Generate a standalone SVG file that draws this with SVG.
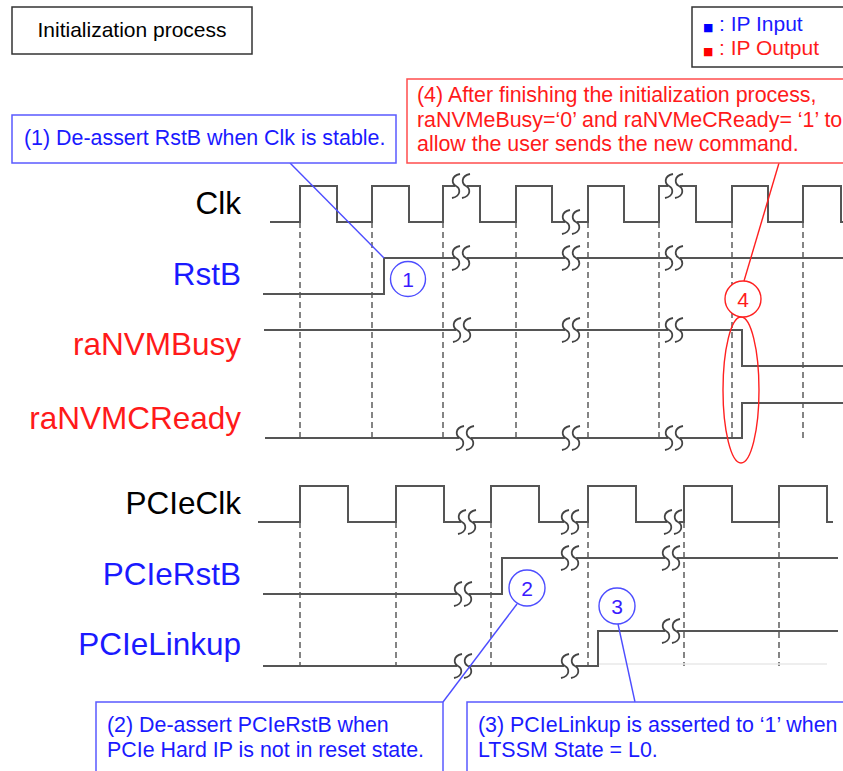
<svg xmlns="http://www.w3.org/2000/svg" xmlns:xlink="http://www.w3.org/1999/xlink" width="843" height="771" viewBox="0 0 843 771">
<style>
  text { font-family: "Liberation Sans", Arial, sans-serif; }
  .lbl { font-size: 31.5px; text-anchor: end; }
  .blk { fill: #000; }
  .blu { fill: #1a1aff; }
  .red { fill: #ff1a1a; }
  .ct { font-size: 21.4px; }
  .wave { fill: none; stroke: #555; stroke-width: 2; }
  .dash { fill: none; stroke: #666; stroke-width: 1.6; stroke-dasharray: 6 4; }
  .bbox { fill: #fff; stroke: #5a5aff; stroke-width: 1.5; }
  .rbox { fill: #fff; stroke: #ff4d4d; stroke-width: 1.5; }
  .bline { stroke: #4d4dff; stroke-width: 1.4; fill: none; }
  .rline { stroke: #ff2020; stroke-width: 1.4; fill: none; }
  .brk path { fill: none; stroke: #444; stroke-width: 1.8; }
</style>
<defs>
  <g id="brk" class="brk">
    <rect x="-1" y="-4" width="12" height="8" fill="#fff"/>
    <path d="M4,-12 C-6,-10 -4,-2 0,0 C4,2 6,10 -4,12"/>
    <path d="M14,-12 C4,-10 6,-2 10,0 C14,2 16,10 6,12"/>
  </g>
</defs>
<rect width="843" height="771" fill="#fff"/>

<g id="title">
  <rect x="12" y="7" width="240" height="47" fill="#fff" stroke="#333" stroke-width="1.5"/>
  <text x="132" y="37" font-size="21" text-anchor="middle" fill="#000">Initialization process</text>
</g>

<g id="legend">
  <rect x="692" y="7" width="155" height="60" fill="#fff" stroke="#333" stroke-width="1.5"/>
  <text x="703" y="31" font-size="11" fill="#0000ff" style="font-family:'DejaVu Sans',sans-serif">■</text>
  <text x="719" y="31" font-size="21" class="blu">: IP Input</text>
  <text x="703" y="55" font-size="11" fill="#ff0000" style="font-family:'DejaVu Sans',sans-serif">■</text>
  <text x="719" y="55" font-size="21" class="red">: IP Output</text>
</g>

<g id="signal-labels">
  <text x="241" y="214" class="lbl blk">Clk</text>
  <text x="241" y="285" class="lbl blu">RstB</text>
  <text x="241" y="355" class="lbl red">raNVMBusy</text>
  <text x="241" y="429" class="lbl red">raNVMCReady</text>
  <text x="241" y="514" class="lbl blk">PCIeClk</text>
  <text x="241" y="585" class="lbl blu">PCIeRstB</text>
  <text x="241" y="655" class="lbl blu">PCIeLinkup</text>
</g>

<g id="gridlines">
  <path class="dash" d="M300,222V438 M372,222V438 M443,222V438 M516,222V438 M588,222V438 M659,222V438 M732,222V438 M803,222V438"/>
  <path class="dash" d="M300,522V666 M396,522V666 M491,522V666 M588,522V666 M684,522V666 M779,522V666"/>
  <path d="M598,664H827" stroke="#e8e8e8" stroke-width="1.5" fill="none"/>
</g>

<g id="wave-clk">
  <path class="wave" d="M270,222H300V186H337V222H372V186H409V222H443V186H480V222H516V186H552V222H588V186H624V222H659V186H696V222H732V186H768V222H803V186H841V222H843"/>
  <use xlink:href="#brk" x="456" y="186"/>
  <use xlink:href="#brk" x="566" y="222"/>
  <use xlink:href="#brk" x="669" y="186"/>
</g>
<g id="wave-rstb">
  <path class="wave" d="M263,294H384V258H843"/>
  <use xlink:href="#brk" x="456" y="258"/>
  <use xlink:href="#brk" x="566" y="258"/>
  <use xlink:href="#brk" x="669" y="258"/>
</g>
<g id="wave-busy">
  <path class="wave" d="M264,330H742V366H843"/>
  <use xlink:href="#brk" x="457" y="330"/>
  <use xlink:href="#brk" x="566" y="330"/>
  <use xlink:href="#brk" x="669" y="330"/>
</g>
<g id="wave-ready">
  <path class="wave" d="M265,438H742V403H843"/>
  <use xlink:href="#brk" x="460" y="438"/>
  <use xlink:href="#brk" x="566" y="438"/>
  <use xlink:href="#brk" x="669" y="438"/>
</g>
<g id="wave-pcieclk">
  <path class="wave" d="M258,522H300V486H348V522H396V486H444V522H491V486H539V522H588V486H636V522H684V486H732V522H779V486H827V522H833"/>
  <use xlink:href="#brk" x="462" y="522"/>
  <use xlink:href="#brk" x="565" y="522"/>
  <use xlink:href="#brk" x="668" y="522"/>
</g>
<g id="wave-pciersb">
  <path class="wave" d="M263,594H502V558H838"/>
  <use xlink:href="#brk" x="458" y="594"/>
  <use xlink:href="#brk" x="565" y="558"/>
  <use xlink:href="#brk" x="666" y="558"/>
</g>
<g id="wave-linkup">
  <path class="wave" d="M263,666H598V631H838"/>
  <use xlink:href="#brk" x="458" y="666"/>
  <use xlink:href="#brk" x="565" y="666"/>
  <use xlink:href="#brk" x="666" y="631"/>
</g>

<g id="connectors">
  <path class="bline" d="M290,163L384,258"/>
  <path class="rline" d="M779,163L744,281"/>
  <path class="bline" d="M517,604L443,702"/>
  <path class="bline" d="M618,624L635,702"/>
</g>

<g id="callout-1">
  <rect class="bbox" x="12" y="115" width="384" height="48"/>
  <text x="24" y="145" class="ct blu">(1) De-assert RstB when Clk is stable.</text>
</g>
<g id="callout-4">
  <rect class="rbox" x="407" y="79" width="440" height="84"/>
  <text x="417" y="102" class="ct red">(4) After finishing the initialization process,</text>
  <text x="417" y="127" class="ct red">raNVMeBusy=‘0’ and raNVMeCReady= ‘1’ to</text>
  <text x="417" y="151" class="ct red">allow the user sends the new command.</text>
</g>
<g id="callout-2">
  <rect class="bbox" x="96" y="702" width="347" height="75"/>
  <text x="107" y="732" class="ct blu">(2) De-assert PCIeRstB when</text>
  <text x="107" y="757" class="ct blu">PCIe Hard IP is not in reset state.</text>
</g>
<g id="callout-3">
  <rect class="bbox" x="467" y="702" width="380" height="75"/>
  <text x="478" y="732" class="ct blu">(3) PCIeLinkup is asserted to ‘1’ when</text>
  <text x="478" y="757" class="ct blu">LTSSM State = L0.</text>
</g>

<g id="marker-1">
  <circle cx="408" cy="279" r="17.5" fill="#fff" stroke="#4d4dff" stroke-width="1.4"/>
  <text x="408" y="287" font-size="21" text-anchor="middle" fill="#3a1aff">1</text>
</g>
<g id="marker-4">
  <ellipse cx="741" cy="390" rx="18" ry="73" fill="none" stroke="#ff2020" stroke-width="1.4"/>
  <circle cx="743" cy="299" r="18" fill="#fff" stroke="#ff2020" stroke-width="1.4"/>
  <text x="743" y="307" font-size="21" text-anchor="middle" fill="#ff1a1a">4</text>
</g>
<g id="marker-2">
  <circle cx="527" cy="588" r="18" fill="#fff" stroke="#4d4dff" stroke-width="1.4"/>
  <text x="527" y="596" font-size="21" text-anchor="middle" fill="#3a1aff">2</text>
</g>
<g id="marker-3">
  <circle cx="617" cy="606" r="18" fill="#fff" stroke="#4d4dff" stroke-width="1.4"/>
  <text x="617" y="614" font-size="21" text-anchor="middle" fill="#3a1aff">3</text>
</g>
</svg>
